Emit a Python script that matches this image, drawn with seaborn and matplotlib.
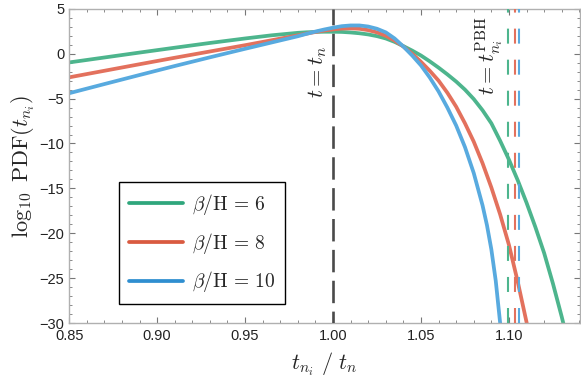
import numpy as np
import pandas as pd
import matplotlib
matplotlib.use("Agg")
import matplotlib.pyplot as plt
from matplotlib.lines import Line2D
from matplotlib.ticker import MultipleLocator, FormatStrFormatter
import seaborn as sns

# ---- data ----
t_g = [0.85, 0.87, 0.89, 0.91, 0.93, 0.95, 0.965, 0.98, 0.985, 0.99, 0.995, 1.00, 1.005,
       1.01, 1.015, 1.02, 1.025, 1.03, 1.035, 1.04, 1.045, 1.05, 1.055, 1.06, 1.065, 1.07,
       1.075, 1.08, 1.085, 1.09, 1.095, 1.10, 1.105, 1.11, 1.115, 1.12, 1.125, 1.13, 1.1315]
y_g = [-0.97, -0.42, 0.13, 0.67, 1.2, 1.7, 2.05, 2.33, 2.39, 2.43, 2.45, 2.45, 2.43,
       2.37, 2.28, 2.15, 1.96, 1.7, 1.32, 0.85, 0.35, -0.2, -0.85, -1.55, -2.3, -3.1,
       -4.0, -5.05, -6.3, -7.75, -9.7, -11.8, -14.1, -16.6, -19.3, -22.2, -25.6, -29.3, -30.5]

t_r = [0.85, 0.87, 0.89, 0.91, 0.93, 0.95, 0.965, 0.98, 0.985, 0.99, 0.995, 1.00, 1.005,
       1.01, 1.015, 1.02, 1.025, 1.03, 1.035, 1.04, 1.045, 1.05, 1.055, 1.06, 1.065, 1.07,
       1.075, 1.08, 1.085, 1.09, 1.095, 1.10, 1.105, 1.11, 1.1105]
y_r = [-2.63, -1.9, -1.17, -0.45, 0.25, 0.95, 1.5, 2.05, 2.24, 2.42, 2.58, 2.71, 2.8,
       2.83, 2.78, 2.63, 2.38, 2.0, 1.47, 0.8, 0.0, -0.9, -1.9, -3.0, -4.35, -5.9,
       -7.75, -9.8, -12.2, -14.9, -17.9, -21.3, -25.4, -29.9, -30.4]

t_b = [0.85, 0.87, 0.89, 0.91, 0.93, 0.95, 0.965, 0.98, 0.985, 0.99, 0.995, 1.00, 1.005,
       1.01, 1.015, 1.02, 1.025, 1.03, 1.035, 1.04, 1.045, 1.05, 1.055, 1.06, 1.065, 1.07,
       1.075, 1.08, 1.085, 1.0875, 1.09, 1.0925, 1.095, 1.0955]
y_b = [-4.4, -3.38, -2.37, -1.37, -0.4, 0.55, 1.25, 1.95, 2.22, 2.47, 2.7, 2.9, 3.07,
       3.15, 3.15, 3.03, 2.78, 2.38, 1.7, 0.8, -0.2, -1.3, -2.65, -4.2, -6.0, -8.0,
       -10.4, -13.3, -16.9, -19.1, -21.8, -25.3, -30.0, -31.0]

labels = [r"$\beta/\mathrm{H}\,=\,6$", r"$\beta/\mathrm{H}\,=\,8$", r"$\beta/\mathrm{H}\,=\,10$"]
pbh_times = [1.0993, 1.1034, 1.1057]
t_nuc = 1.0

x_ticks = [0.85, 0.90, 0.95, 1.00, 1.05, 1.10]
y_ticks = [-30, -25, -20, -15, -10, -5, 0, 5]

# ---- styling ----
sns.set_style("ticks")
plt.rcParams["font.family"] = ["Liberation Sans", "DejaVu Sans"]
plt.rcParams["mathtext.fontset"] = "cm"

line_cols = ["#4DB58D", "#E3715D", "#58AADF"]
leg_cols = ["#2FA67C", "#D95A40", "#2F8ED0"]

df = pd.concat([
    pd.DataFrame({"t": t_g, "y": y_g, "series": labels[0]}),
    pd.DataFrame({"t": t_r, "y": y_r, "series": labels[1]}),
    pd.DataFrame({"t": t_b, "y": y_b, "series": labels[2]}),
])

fig = plt.figure(figsize=(5.81, 3.85), dpi=100)
ax = fig.add_axes([0.119, 0.161, 0.879, 0.816])

sns.lineplot(data=df, x="t", y="y", hue="series", palette=dict(zip(labels, line_cols)),
             linewidth=2.7, sort=False, legend=False, ax=ax, zorder=2)
for l in ax.get_lines():
    l.set_solid_joinstyle("round")

ax.axvline(t_nuc, color="#4a4a4a", lw=1.9, ls=(4, (8.5, 3.2)), zorder=3)
for xv, c in zip(pbh_times, line_cols):
    ax.axvline(xv, color=c, lw=1.5, ls=(0, (7.2, 7.7)), zorder=3)

ax.set_xlim(0.85, 1.1403)
ax.set_ylim(-30, 5)
ax.set_xticks(x_ticks)
ax.set_yticks(y_ticks)
ax.xaxis.set_major_formatter(FormatStrFormatter("%.2f"))
ax.xaxis.set_minor_locator(MultipleLocator(0.01))
ax.yaxis.set_minor_locator(MultipleLocator(1))
ax.tick_params(which="both", direction="in", top=True, right=True, color="#777777",
               labelsize=10.5, labelcolor="#222222")
ax.tick_params(which="major", length=4, width=0.8)
ax.tick_params(which="minor", length=2.2, width=0.6)
ax.tick_params(axis="x", pad=4)
for s in ax.spines.values():
    s.set_color("#b0b0b0")
    s.set_linewidth(1.0)

ax.set_xlabel(r"$t_{n_i}\ /\ t_n$", fontsize=16, labelpad=6)
ax.set_ylabel(r"$\log_{10}\ \mathrm{PDF}(t_{n_i})$", fontsize=16, labelpad=2)

ax.text(0.9915, -2.0, r"$t = t_n$", rotation=90, fontsize=16, ha="center", va="center")
ax.text(1.089, -0.2, r"$t = t_{n_i}^{\mathrm{PBH}}$", rotation=90, fontsize=16,
        ha="center", va="center")

handles = [Line2D([0], [0], color=c, lw=2.7) for c in leg_cols]
leg = ax.legend(handles, labels, loc="lower left", bbox_to_anchor=(0.098, 0.06),
                fontsize=14, frameon=True, fancybox=False, edgecolor="black",
                handlelength=2.8, handletextpad=0.45, labelspacing=0.7, borderpad=0.5,
                borderaxespad=0)
leg.get_frame().set_linewidth(1.0)
leg.get_frame().set_alpha(1)

fig.savefig("out.png", dpi=100)
